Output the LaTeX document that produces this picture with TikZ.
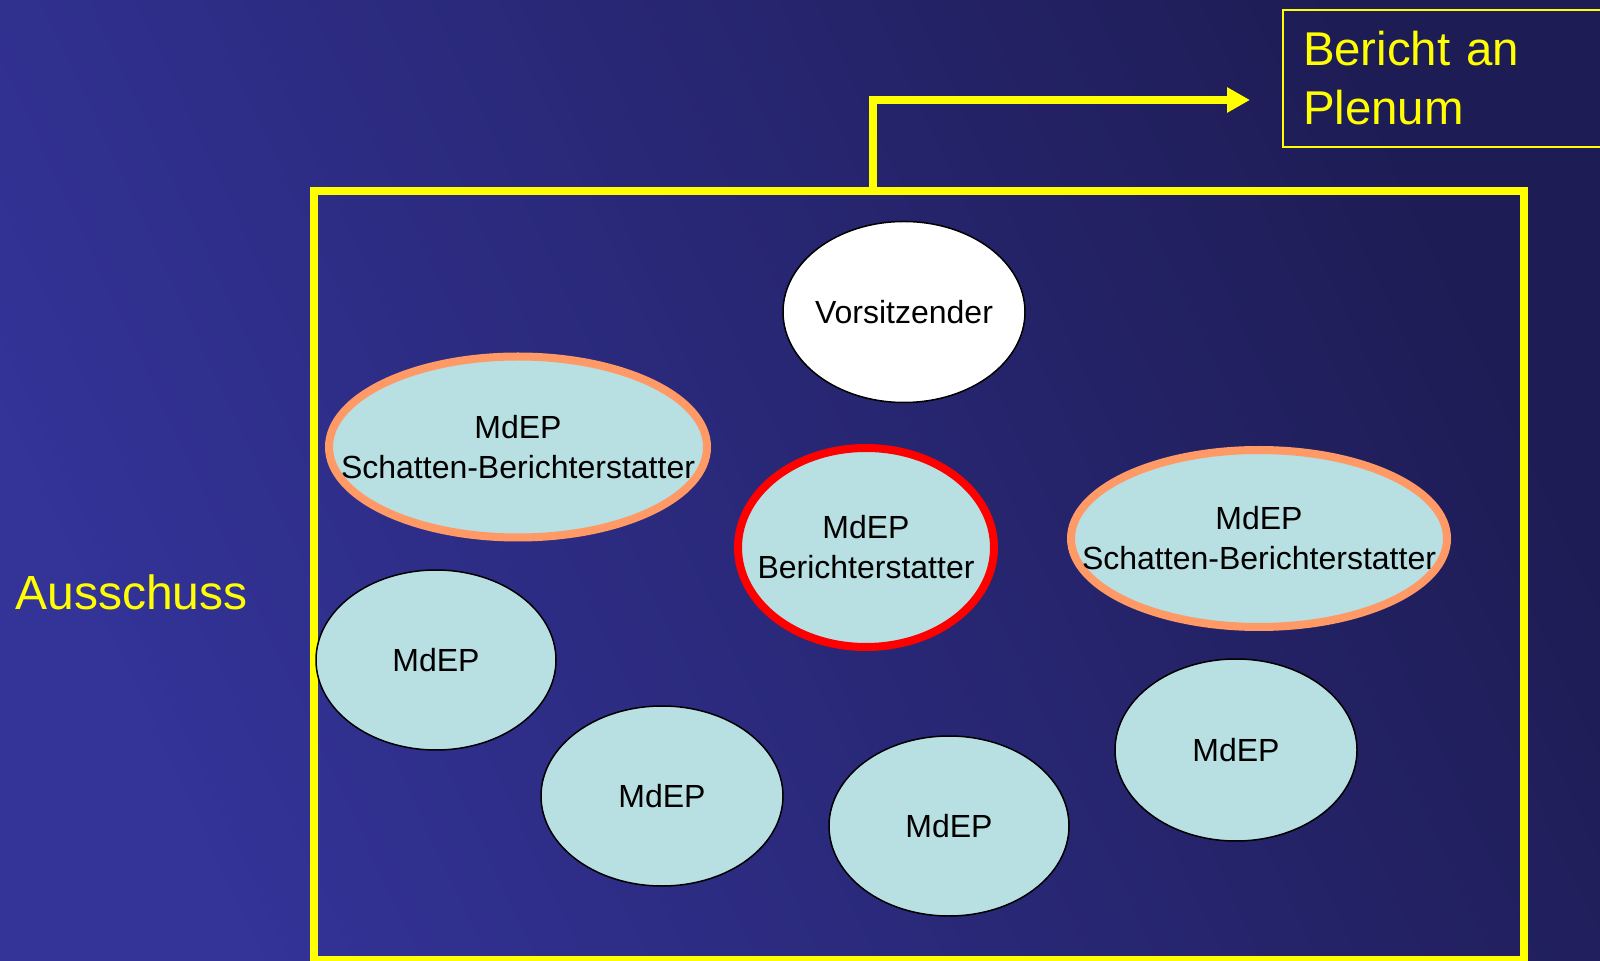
\documentclass[tikz,border=0pt]{standalone}
\usepackage{fontspec}
\setmainfont{Liberation Sans}
\usetikzlibrary{shapes.geometric,arrows.meta}

\definecolor{bgbright}{RGB}{51,51,152}
\definecolor{bgdark}{RGB}{30,28,84}
\definecolor{gelb}{RGB}{255,255,0}
\definecolor{mdepfill}{RGB}{184,223,226}
\definecolor{schattenorange}{RGB}{255,153,102}
\definecolor{rot}{RGB}{255,0,0}

\begin{document}
\begin{tikzpicture}[x=0.5pt, y=-0.5pt,
    person/.style={ellipse, draw=black, line width=0.75pt, fill=mdepfill, inner sep=0pt,
        minimum width=120pt, minimum height=90pt,
        label={[align=center, text=black, font=\fontsize{16}{20}\selectfont]center:#1}},
    schatten/.style={person={#1}, draw=schattenorange, line width=4pt,
        minimum width=189pt, minimum height=90.5pt},
    berichterst/.style={person={#1}, draw=rot, line width=4pt,
        minimum width=128pt, minimum height=99.5pt},
    gelbtext/.style={text=gelb, font=\fontsize{23.7}{29.5}\selectfont},
    pfeil/.style={draw=gelb, line width=4pt, -{Triangle[length=11.5pt,width=12pt]}}]

    \useasboundingbox (0,0) rectangle (1600,961);
    \clip (0,0) rectangle (1600,961);
    \fill[left color=bgbright, right color=bgdark, shading angle=115] (0,0) rectangle (1600,961);

    % Ausschuss
    \draw[gelb, line width=4pt] (314,191) rectangle (1524,960);
    \node[gelbtext, font=\fontsize{24}{29}\selectfont, anchor=base west, inner sep=0pt] (ausschuss) at (15,610) {Ausschuss};

    \node[person={Vorsitzender}, fill=white, minimum width=121pt, minimum height=90.5pt] (vorsitz) at (904,312) {};
    \node[schatten={MdEP\\Schatten-Berichterstatter}] (schattenL) at (518,447) {};
    \node[berichterst={MdEP\\Berichterstatter}] (bericht1) at (866,547.5) {};
    \node[schatten={MdEP\\Schatten-Berichterstatter}, minimum width=188pt, minimum height=88.5pt] (schattenR) at (1259,538.5) {};

    \node[person={MdEP}] (mdep1) at (436,660) {};
    \node[person={MdEP}, minimum width=121pt] (mdep2) at (662,796) {};
    \node[person={MdEP}] (mdep3) at (949,826) {};
    \node[person={MdEP}, minimum width=121pt, minimum height=91pt] (mdep4) at (1236,750) {};

    % Bericht an Plenum
    \node[gelbtext, draw=gelb, line width=1pt, anchor=north west, align=left,
        text width=152pt, inner xsep=10pt, minimum height=68.5pt] (plenum) at (1282,9) {Bericht an\\Plenum};

    \coordinate (abzweig) at (873,191);
    \coordinate (pfeilende) at (1250,100);
    \draw[pfeil] (abzweig) |- (pfeilende);

\end{tikzpicture}
\end{document}
